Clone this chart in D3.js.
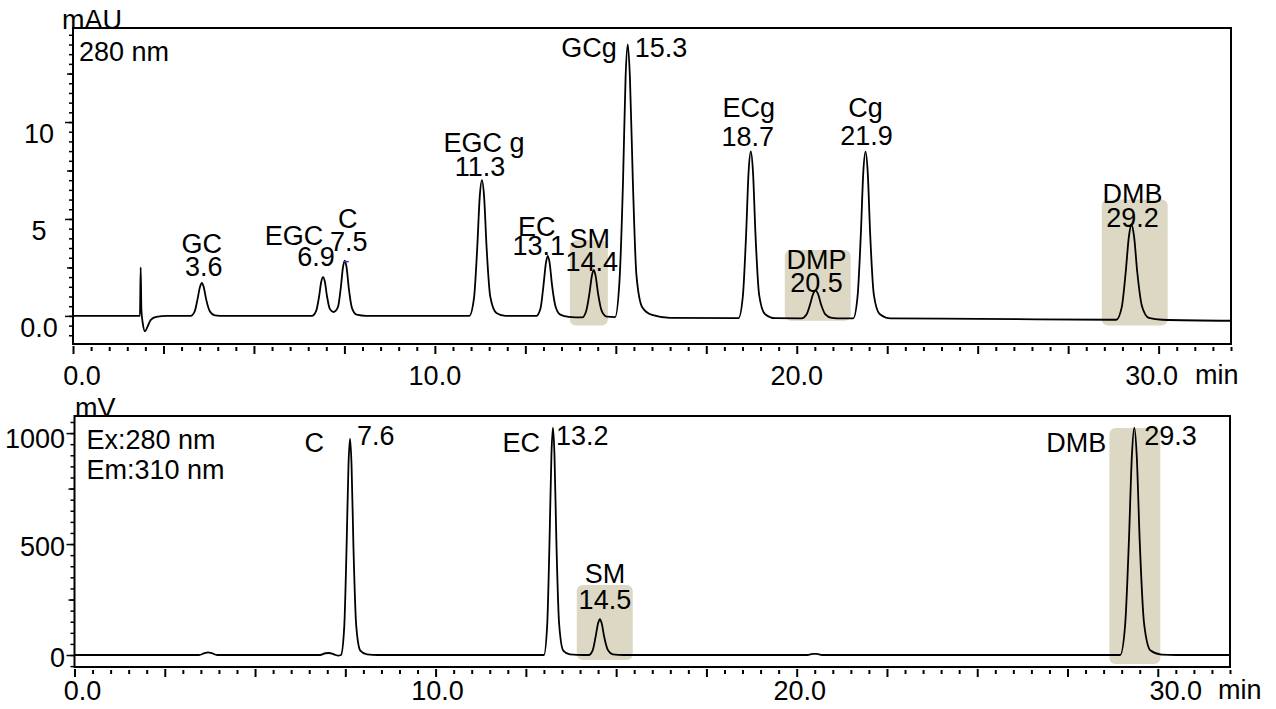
<!DOCTYPE html>
<html>
<head>
<meta charset="utf-8">
<script src="https://cdn.jsdelivr.net/npm/d3@7"></script>
<style>
  body { margin: 0; background: #fff; }
  text { font-family: "Liberation Sans", Arial, sans-serif; font-size: 27px; fill: #000; }
</style>
</head>
<body>
<div id="chart"></div>
<script>
// UV trace, 280 nm (time in min, signal in mAU)
const uvTrace = [
    [0, 0], [1.85, 0], [1.87, 2.5], [1.89, 0.3], [1.93, -0.4], [1.99, -0.8], [2.06, -0.55], [2.15, -0.2], [2.3, -0.05], [2.6, 0],
    [3.25, 0], [3.36, 0.22], [3.44, 0.85], [3.51, 1.5], [3.56, 1.7], [3.61, 1.5], [3.68, 0.85], [3.78, 0.24], [3.92, 0.03], [4.2, 0],
    [6.6, 0], [6.72, 0.26], [6.8, 1.0], [6.86, 1.76], [6.91, 2.0], [6.96, 1.76], [7.02, 1.0], [7.1, 0.35], [7.2, 0.2],
    [7.32, 0.45], [7.4, 1.45], [7.46, 2.5], [7.51, 2.85], [7.56, 2.5], [7.62, 1.45], [7.71, 0.4], [7.84, 0.06], [8.1, 0],
    [10.95, 0], [11.08, 0.9], [11.17, 3.5], [11.24, 6.15], [11.3, 7.0], [11.36, 6.15], [11.43, 3.5], [11.53, 1.0], [11.7, 0.15], [11.95, 0],
    [12.8, 0], [12.92, 0.4], [13.0, 1.55], [13.07, 2.75], [13.12, 3.1], [13.17, 2.75], [13.24, 1.55], [13.34, 0.45], [13.48, 0.05], [13.7, -0.05],
    [14.07, -0.08], [14.18, 0.24], [14.27, 1.15], [14.34, 2.08], [14.39, 2.37], [14.44, 2.08], [14.51, 1.15], [14.61, 0.26], [14.75, -0.04],
    [14.98, -0.06], [15.1, 1.75], [15.2, 7.0], [15.27, 12.3], [15.33, 14.0], [15.39, 12.3], [15.47, 7.0], [15.57, 2.1], [15.73, 0.45], [16.0, 0.05], [16.5, -0.1],
    [18.39, -0.12], [18.51, 1.0], [18.6, 4.18], [18.67, 7.45], [18.73, 8.48], [18.79, 7.45], [18.86, 4.18], [18.96, 1.1], [19.12, 0.1], [19.4, -0.12],
    [20.13, -0.13], [20.27, 0.07], [20.37, 0.6], [20.45, 1.12], [20.52, 1.3], [20.59, 1.12], [20.67, 0.6], [20.79, 0.08], [20.97, -0.1], [21.25, -0.13],
    [21.56, -0.13], [21.68, 1.0], [21.77, 4.17], [21.84, 7.44], [21.9, 8.47], [21.96, 7.44], [22.03, 4.17], [22.13, 1.1], [22.29, 0.1], [22.6, -0.13],
    [25, -0.15], [28.83, -0.2], [28.98, 0.44], [29.09, 2.25], [29.18, 4.11], [29.25, 4.7], [29.32, 4.11], [29.41, 2.25], [29.54, 0.5], [29.73, -0.1], [30.1, -0.2], [32, -0.25]
];

// fluorescence trace, Ex 280 / Em 310 (time in min, signal in mV)
const flTrace = [
    [0, 0], [3.45, 0], [3.6, 8], [3.7, 12], [3.8, 8], [3.95, 0], [6.8, 0], [6.95, 8], [7.05, 9], [7.2, 2], [7.3, -3], [7.38, 0],
    [7.47, 127], [7.535, 488], [7.588, 858], [7.63, 975], [7.672, 858], [7.725, 488], [7.8, 137], [7.915, 20], [8.1, 3], [8.4, 0],
    [13.0, 0], [13.09, 133], [13.155, 512], [13.208, 902], [13.25, 1025], [13.292, 902], [13.345, 512], [13.42, 143], [13.535, 20], [13.72, 3], [14.1, 0],
    [14.24, 0], [14.35, 21], [14.43, 81], [14.5, 143], [14.55, 162], [14.6, 143], [14.67, 81], [14.77, 23], [14.91, 3], [15.2, 0],
    [20.3, 0], [20.45, 5], [20.55, 5], [20.7, 0],
    [28.96, 0], [29.095, 133], [29.2, 512], [29.284, 902], [29.35, 1025], [29.416, 902], [29.5, 512], [29.62, 143], [29.8, 20], [30.1, 2], [30.5, 0], [32, 0]
];

// highlighted windows [t0, t1, v0, v1]
const uvBoxes = [[13.73, 14.78, -0.5, 3.9], [19.67, 21.49, -0.25, 3.4], [28.43, 30.25, -0.5, 6.0]];
const flBoxes = [[13.91, 15.46, -22, 315], [28.66, 30.07, -40, 1023]];

const xTickLabels = ['0.0', '10.0', '20.0', '30.0'];
const uvYTicks = [0, 5, 10];
const uvYTickLabels = ['0.0', '5', '10'];
const flYTicks = [0, 500, 1000];
const flYTickLabels = ['0', '500', '1000'];

// peak labels: text, time (min) used for x, dx, baseline y, anchor
const uvLabels = [
    ['GC', 3.56, 0, 253, 'middle'], ['3.6', 3.56, 2, 276, 'middle'],
    ['EGC', 6.91, -29, 245, 'middle'], ['6.9', 6.91, -7, 266, 'middle'],
    ['C', 7.51, 3, 228, 'middle'], ['7.5', 7.51, 4, 251, 'middle'],
    ['EGC g', 11.3, 2, 152, 'middle'], ['11.3', 11.3, -2, 176, 'middle'],
    ['EC', 13.12, -11, 236, 'middle'], ['13.1', 13.12, -9, 255, 'middle'],
    ['SM', 14.39, -4, 248, 'middle'], ['14.4', 14.39, -2, 271, 'middle'],
    ['GCg', 15.33, -11, 57, 'end'], ['15.3', 15.33, 7, 57, 'start'],
    ['ECg', 18.73, -2, 117, 'middle'], ['18.7', 18.73, -3, 146, 'middle'],
    ['DMP', 20.52, 1, 269, 'middle'], ['20.5', 20.52, 1, 292, 'middle'],
    ['Cg', 21.9, 0, 117, 'middle'], ['21.9', 21.9, 1, 145, 'middle'],
    ['DMB', 29.25, 1, 203, 'middle'], ['29.2', 29.25, 1, 227, 'middle']
];
const flLabels = [
    ['C', 7.63, -26, 452, 'end'], ['7.6', 7.63, 7, 445, 'start'],
    ['EC', 13.25, -13, 452, 'end'], ['13.2', 13.25, 3, 445, 'start'],
    ['SM', 14.55, 5, 583, 'middle'], ['14.5', 14.55, 5, 609, 'middle'],
    ['DMB', 29.35, -28, 452, 'end'], ['29.3', 29.35, 10, 445, 'start']
];

const width = 1276;
const height = 709;

const svg = d3.select('#chart')
    .append('svg')
    .attr('width', width)
    .attr('height', height);

function drawPanel(opts) {
    const x = d3.scaleLinear().domain([0, 32]).range([opts.left, opts.right]);
    const y = d3.scaleLinear().domain(opts.yDomain).range([opts.bottom, opts.top]);
    const g = svg.append('g');

    // highlight boxes
    g.selectAll('rect.box')
        .data(opts.boxes)
        .enter()
        .append('rect')
        .attr('class', 'box')
        .attr('x', d => x(d[0]))
        .attr('width', d => x(d[1]) - x(d[0]))
        .attr('y', d => y(d[3]))
        .attr('height', d => y(d[2]) - y(d[3]))
        .attr('rx', 6)
        .style('fill', '#dcd8c3');

    // trace
    const clipId = 'clip' + opts.top;
    svg.append('clipPath').attr('id', clipId)
        .append('rect')
        .attr('x', opts.left).attr('y', opts.top)
        .attr('width', opts.right - opts.left).attr('height', opts.bottom - opts.top);

    const line = d3.line()
        .x(d => x(d[0]))
        .y(d => y(d[1]))
        .curve(d3.curveMonotoneX);

    g.append('path')
        .datum(opts.trace)
        .attr('clip-path', 'url(#' + clipId + ')')
        .attr('d', line)
        .style('fill', 'none')
        .style('stroke', '#000')
        .style('stroke-width', 1.8)
        .style('stroke-linejoin', 'round');

    // frame
    g.append('rect')
        .attr('x', opts.left).attr('y', opts.top)
        .attr('width', opts.right - opts.left).attr('height', opts.bottom - opts.top)
        .style('fill', 'none')
        .style('stroke', '#000')
        .style('stroke-width', 2);

    // x ticks
    const xMinor = d3.range(0, 32.01, 0.5).filter(v => v % 2.5 !== 0);
    const xMajor = d3.range(0, 32.01, 2.5);
    g.append('g')
        .attr('transform', `translate(0,${opts.bottom + 3})`)
        .call(d3.axisBottom(x).tickValues(xMinor).tickSize(4).tickFormat(''))
        .call(a => a.select('.domain').remove())
        .call(a => a.selectAll('line').style('stroke-width', 2));
    g.append('g')
        .attr('transform', `translate(0,${opts.bottom + 2})`)
        .call(d3.axisBottom(x).tickValues(xMajor).tickSize(8).tickFormat(''))
        .call(a => a.select('.domain').remove())
        .call(a => a.selectAll('line').style('stroke-width', 2));

    g.selectAll('text.xl')
        .data(xTickLabels)
        .enter()
        .append('text')
        .attr('x', (d, i) => x(+d) + opts.xLabelDx[i])
        .attr('y', opts.xLabelY)
        .attr('text-anchor', 'middle')
        .text(d => d);

    g.append('text')
        .attr('x', opts.minX)
        .attr('y', opts.xLabelY - 1)
        .text('min');

    // y ticks
    [[opts.yMinor, 4], [opts.yMid, 6], [opts.yTicks, 8]].forEach(([vals, size]) => {
        g.append('g')
            .attr('transform', `translate(${opts.left},0)`)
            .call(d3.axisLeft(y).tickValues(vals).tickSize(size).tickFormat(''))
            .call(a => a.select('.domain').remove())
            .call(a => a.selectAll('line').style('stroke-width', 1.5));
    });

    g.selectAll('text.yl')
        .data(opts.yTicks)
        .enter()
        .append('text')
        .attr('x', opts.yLabelX)
        .attr('y', (d, i) => y(d) + opts.yLabelDy[i])
        .attr('text-anchor', opts.yLabelAnchor)
        .text((d, i) => opts.yTickLabels[i]);

    // unit
    g.append('text')
        .attr('x', opts.unitX)
        .attr('y', opts.top + 1)
        .text(opts.unit);

    // info text
    opts.info.forEach((t, i) => {
        g.append('text')
            .attr('x', opts.left + opts.infoDx)
            .attr('y', opts.top + 33 + i * 30)
            .text(t);
    });

    // peak labels
    g.selectAll('text.pk')
        .data(opts.labels)
        .enter()
        .append('text')
        .attr('x', d => x(d[1]) + d[2])
        .attr('y', d => d[3])
        .attr('text-anchor', d => d[4])
        .text(d => d[0]);

    return { x, y, g };
}

const uv = drawPanel({
    left: 73, right: 1231, top: 28, bottom: 344,
    yDomain: [-1.45, 14.85],
    trace: uvTrace, boxes: uvBoxes, labels: uvLabels,
    xLabelY: 385, xLabelDx: [9, 0, 0, -7], minX: 1195,
    yMinor: d3.range(-1, 14.6, 0.5), yMid: [2.5, 7.5, 12.5], yTicks: uvYTicks,
    yTickLabels: uvYTickLabels, yLabelX: 39, yLabelDy: [21, 21, 21], yLabelAnchor: 'middle',
    unit: 'mAU', unitX: 62, info: ['280 nm'], infoDx: 6
});

// small blue integration mark on top of C
const cApex = uvTrace.find(d => d[0] === 7.51);
uv.g.append('line')
    .attr('x1', uv.x(cApex[0]) - 1)
    .attr('x2', uv.x(cApex[0]) + 4)
    .attr('y1', uv.y(cApex[1]) + 1)
    .attr('y2', uv.y(cApex[1]) + 1)
    .style('stroke', '#3030e0')
    .style('stroke-width', 1.5);

drawPanel({
    left: 74.5, right: 1230, top: 416, bottom: 667,
    yDomain: [-54, 1077],
    trace: flTrace, boxes: flBoxes, labels: flLabels,
    xLabelY: 700, xLabelDx: [8, 2, 3, 18], minX: 1218,
    yMinor: d3.range(-50, 1076, 50), yMid: [250, 750], yTicks: flYTicks,
    yTickLabels: flYTickLabels, yLabelX: 65, yLabelDy: [12, 12, 15], yLabelAnchor: 'end',
    unit: 'mV', unitX: 75, info: ['Ex:280 nm', 'Em:310 nm'], infoDx: 12
});
</script>
</body>
</html>
